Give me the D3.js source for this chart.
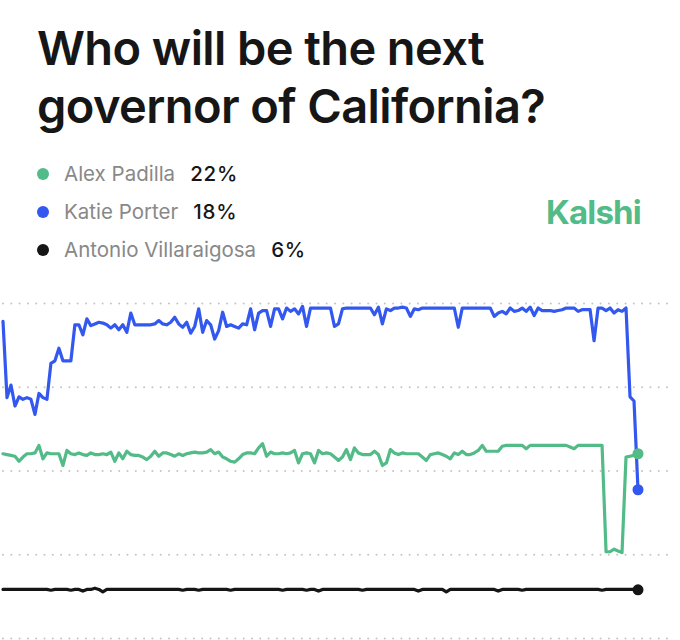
<!DOCTYPE html>
<html>
<head>
<meta charset="utf-8">
<script src="https://cdn.jsdelivr.net/npm/d3@7"></script>
<style>
  html, body { margin: 0; padding: 0; background: #fff; }
  svg { display: block; }
</style>
</head>
<body>
<svg id="chart" width="680" height="640"></svg>
<script>
// ---- data ----
const titleLines = ["Who will be the next", "governor of California?"];
const candidates = ["Alex Padilla", "Katie Porter", "Antonio Villaraigosa"];
const latest = ["22%", "18%", "6%"];
const colors = ["#52bb88", "#3358f0", "#151515"];
const yTicks = [0, 10, 20, 30, 40];

const padilla = [
  22.0,21.9,21.8,21.7,21.1,21.6,22.0,22.0,22.1,23.0,
  21.4,22.1,22.0,22.0,22.0,20.6,22.4,22.0,21.9,22.1,
  21.9,21.8,22.1,21.9,21.9,22.0,21.9,22.2,21.1,22.1,
  21.4,22.3,21.9,21.8,21.8,21.6,21.3,21.7,22.3,21.7,
  22.1,22.1,21.9,21.7,22.0,21.8,22.0,22.1,22.2,22.1,
  22.1,22.2,22.5,22.0,22.2,21.6,21.4,21.1,21.0,21.4,
  21.9,22.1,22.1,22.0,22.7,23.2,21.7,22.2,22.0,22.0,
  22.1,22.0,22.1,22.4,20.9,22.0,22.1,22.0,20.9,22.4,
  22.0,22.1,22.0,21.6,21.2,21.6,22.5,21.3,22.7,22.1,
  21.9,21.9,21.9,22.3,21.9,20.6,20.9,22.5,22.1,21.9,
  22.1,22.0,22.0,22.0,22.0,21.6,21.2,21.9,22.0,22.1,
  21.9,21.7,21.4,22.1,21.9,22.3,21.9,21.9,22.1,22.4,
  23.0,22.3,22.3,22.3,22.3,22.9,23.0,23.0,23.0,23.0,
  23.0,22.6,23.0,23.0,23.0,23.0,23.0,23.0,23.0,23.0,
  23.0,23.0,22.8,22.6,23.0,23.0,23.0,23.0,23.0,23.0,
  23.0,10.3,10.3,10.6,10.4,10.2,21.6,21.7,21.8,22.0
];
const porter = [
  37.8,28.7,30.2,27.7,28.8,28.5,28.7,28.5,26.7,29.2,
  28.7,28.5,32.8,33.1,34.6,33.1,33.1,33.1,37.4,37.4,
  36.2,38.1,37.3,37.5,37.7,37.6,37.4,37.0,37.4,36.8,
  37.4,36.5,38.8,37.4,37.4,37.4,37.4,37.4,37.5,37.9,
  37.5,37.4,37.7,38.3,37.5,37.1,37.7,36.4,37.2,39.3,
  36.5,37.9,37.4,35.7,36.7,38.9,37.2,37.4,37.2,37.0,
  37.5,37.4,39.3,36.8,38.8,39.1,39.1,37.2,39.3,39.3,
  38.1,39.4,39.0,39.3,38.7,39.6,37.2,39.4,39.4,39.4,
  39.4,39.4,39.4,37.2,37.5,39.3,39.4,39.4,39.4,39.4,
  39.4,39.4,39.4,38.6,39.5,37.5,39.3,39.1,39.4,39.4,
  39.5,39.4,38.4,39.3,39.2,39.4,39.4,39.4,39.4,39.4,
  39.4,39.4,39.4,39.4,37.1,39.4,39.4,39.4,39.4,39.4,
  39.4,39.4,39.4,38.4,38.8,39.0,38.7,39.4,39.0,39.1,
  39.4,39.0,39.5,38.5,39.4,39.1,39.1,39.1,39.0,39.1,
  39.2,39.4,39.4,39.4,39.0,39.2,39.2,39.2,35.5,39.4,
  39.4,39.1,39.4,38.8,39.2,39.0,39.4,28.8,28.3,17.7
];
const villaraigosa = [
  5.8,5.8,5.8,5.8,5.8,5.8,5.8,5.8,5.8,5.8,
  5.8,5.8,5.7,5.8,5.8,5.8,5.8,5.7,5.8,5.8,
  5.6,5.8,5.8,5.95,5.8,5.5,5.8,5.8,5.8,5.8,
  5.8,5.8,5.8,5.8,5.8,5.8,5.8,5.8,5.8,5.8,
  5.8,5.8,5.8,5.8,5.8,5.7,5.8,5.8,5.8,5.7,
  5.8,5.8,5.8,5.8,5.8,5.8,5.8,5.7,5.8,5.8,
  5.8,5.8,5.8,5.8,5.8,5.8,5.8,5.8,5.8,5.8,
  5.7,5.8,5.8,5.8,5.8,5.8,5.7,5.8,5.8,5.6,
  5.8,5.8,5.8,5.8,5.8,5.8,5.8,5.8,5.8,5.8,
  5.7,5.8,5.8,5.8,5.8,5.8,5.8,5.8,5.8,5.8,
  5.8,5.8,5.8,5.8,5.6,5.8,5.8,5.8,5.8,5.8,
  5.8,5.5,5.8,5.8,5.8,5.8,5.8,5.8,5.8,5.8,
  5.8,5.8,5.8,5.8,5.6,5.8,5.8,5.8,5.8,5.8,
  5.7,5.8,5.8,5.8,5.8,5.8,5.8,5.8,5.8,5.8,
  5.8,5.8,5.8,5.8,5.8,5.8,5.8,5.8,5.8,5.8,
  5.7,5.8,5.8,5.8,5.8,5.8,5.8,5.8,5.8,5.75
];
const seriesList = [padilla, porter, villaraigosa];

// ---- drawing ----
const svg = d3.select("#chart");
const font = "Inter, 'Noto Sans', sans-serif";

const x = d3.scaleLinear().domain([0, padilla.length - 1]).range([3, 638]);
const y = d3.scaleLinear().domain([0, 40]).range([638, 303]);

// title
svg.append("g").selectAll("text").data(titleLines).join("text")
  .attr("x", 37)
  .attr("y", (d, i) => 65 + i * 58)
  .attr("font-family", font)
  .attr("font-size", 47)
  .attr("font-weight", 600)
  .attr("letter-spacing", -0.6)
  .attr("fill", "#161616")
  .text(d => d);

// legend
const leg = svg.append("g");
candidates.forEach((name, i) => {
  const cy = 174 + i * 38;
  leg.append("circle").attr("cx", 43).attr("cy", cy).attr("r", 6).attr("fill", colors[i]);
  const t = leg.append("text")
    .attr("x", 64).attr("y", cy + 7)
    .attr("font-family", font).attr("font-size", 20.5)
    .attr("fill", "#888888")
    .text(name);
  const w = t.node().getComputedTextLength();
  leg.append("text")
    .attr("x", 64 + w + 15).attr("y", cy + 7)
    .attr("font-family", font).attr("font-size", 20.5).attr("font-weight", 500)
    .attr("letter-spacing", 0.8)
    .attr("fill", "#161616")
    .text(latest[i]);
});

// brand
svg.append("text")
  .attr("x", 641).attr("y", 224)
  .attr("text-anchor", "end")
  .attr("font-family", font)
  .attr("font-size", 33)
  .attr("font-weight", 700)
  .attr("letter-spacing", -0.8)
  .attr("fill", "#52bb88")
  .text("Kalshi");

// gridlines via axis
const yAxis = d3.axisLeft(y).tickValues(yTicks).tickSize(-680).tickFormat("");
const ga = svg.append("g").attr("transform", "translate(680,0)").call(yAxis);
ga.select(".domain").remove();
ga.selectAll(".tick line")
  .attr("x1", -677).attr("x2", -6)
  .attr("stroke", "#c4c4c4")
  .attr("stroke-width", 2)
  .attr("stroke-linecap", "round")
  .attr("stroke-dasharray", "0,8.3");

// lines
const line = d3.line().x((d, i) => x(i)).y(d => y(d)).curve(d3.curveLinear);
[2, 0, 1].forEach(k => {
  svg.append("path")
    .datum(seriesList[k])
    .attr("d", line)
    .attr("fill", "none")
    .attr("stroke", colors[k])
    .attr("stroke-width", 3.2)
    .attr("stroke-linejoin", "round")
    .attr("stroke-linecap", "round");
});
// end dots
[2, 0, 1].forEach(k => {
  const s = seriesList[k];
  svg.append("circle")
    .attr("cx", x(s.length - 1)).attr("cy", y(s[s.length - 1]))
    .attr("r", 5.5).attr("fill", colors[k]);
});
</script>
</body>
</html>
